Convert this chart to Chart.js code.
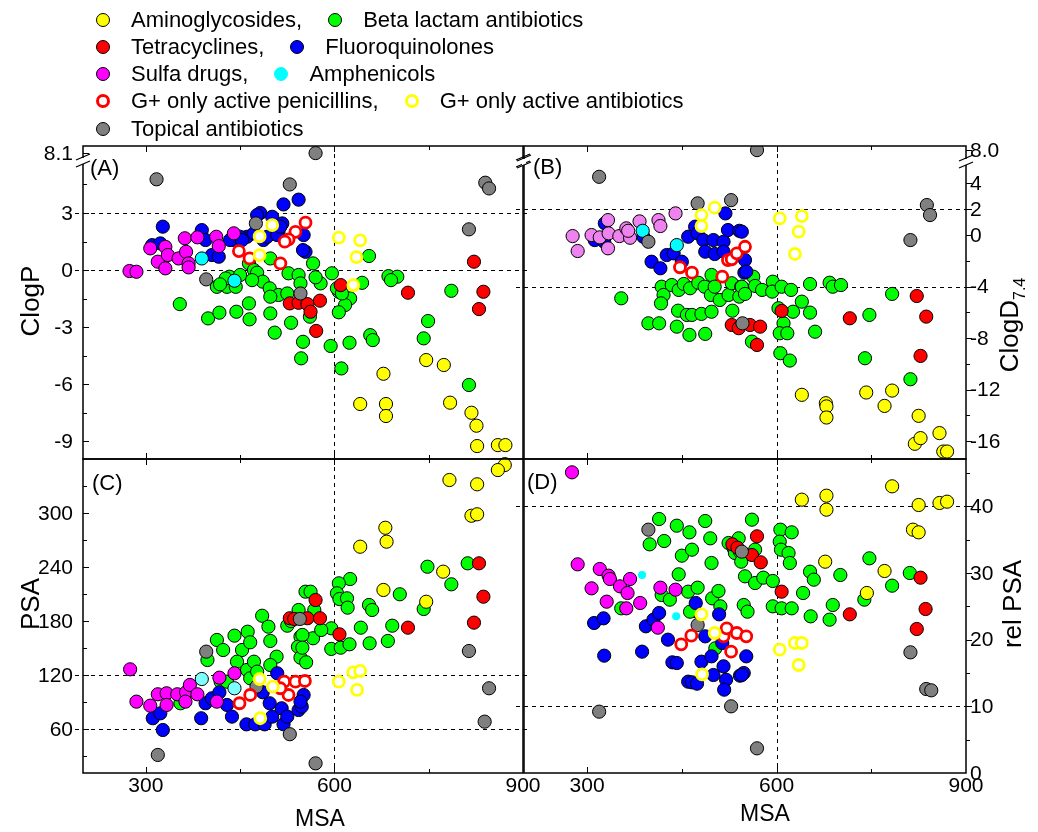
<!DOCTYPE html>
<html>
<head>
<meta charset="utf-8">
<script src="https://cdn.jsdelivr.net/npm/chart.js@4.4.1/dist/chart.umd.min.js"></script>
<style>
html,body{margin:0;padding:0;background:#fff;}
#wrap{position:relative;width:1038px;height:832px;overflow:hidden;font-family:"Liberation Sans",Arial,Helvetica,sans-serif;color:#000;}
#wrap canvas{position:absolute;left:0;top:0;}
.lg{position:absolute;left:96px;height:26px;display:flex;align-items:center;font-size:22px;white-space:nowrap;}
.mk{display:inline-block;box-sizing:border-box;width:14px;height:14px;border-radius:50%;border:1px solid #000;margin-right:21px;flex:none;}
.mk.ring{border:3px solid;background:#fff;}
.gap{display:inline-block;width:26px;}
.tt{position:absolute;white-space:nowrap;transform:translate(-50%,-50%);line-height:1;}
.rot{transform:translate(-50%,-50%) rotate(-90deg);}
</style>
</head>
<body>
<div id="wrap">
  <canvas id="cA" width="1038" height="832"></canvas>
  <canvas id="cB" width="1038" height="832"></canvas>
  <canvas id="cC" width="1038" height="832"></canvas>
  <canvas id="cD" width="1038" height="832"></canvas>

  <div class="lg" style="top:7px"><span class="mk" style="background:#ffff00"></span>Aminoglycosides,<span class="gap"></span><span class="mk" style="background:#00ff00"></span>Beta lactam antibiotics</div>
  <div class="lg" style="top:34px"><span class="mk" style="background:#ff0000"></span>Tetracyclines,<span class="gap"></span><span class="mk" style="background:#0000ff"></span>Fluoroquinolones</div>
  <div class="lg" style="top:61px"><span class="mk" style="background:#ff00ff"></span>Sulfa drugs,<span class="gap"></span><span class="mk" style="background:#00ffff;border-color:#00ffff"></span>Amphenicols</div>
  <div class="lg" style="top:88px"><span class="mk ring" style="border-color:#ff0000"></span>G+ only active penicillins,<span class="gap"></span><span class="mk ring" style="border-color:#ffff00"></span>G+ only active antibiotics</div>
  <div class="lg" style="top:116px"><span class="mk" style="background:#808080"></span>Topical antibiotics</div>

  <div class="tt rot" style="left:30px;top:301px;font-size:26px">ClogP</div>
  <div class="tt rot" style="left:30px;top:604px;font-size:26px">PSA</div>
  <div class="tt rot" style="left:1012px;top:325px;font-size:26px">ClogD<sub style="font-size:16px">7.4</sub></div>
  <div class="tt rot" style="left:1012px;top:604px;font-size:26px">rel PSA</div>
  <div class="tt" style="left:320px;top:818px;font-size:23px">MSA</div>
  <div class="tt" style="left:765px;top:813px;font-size:23px">MSA</div>
</div>

<script>
// ---------------- axis / tick definitions ----------------
const MSA_RANGE = [200, 900];
const MSA_TICKS = [300, 600, 900];
const MSA_MINOR = [450, 750];
const CLOGP_TICKS = [-9, -6, -3, 0, 3];
const CLOGP_MINOR = [-7.5, -4.5, -1.5, 1.5, 4.5];
const CLOGP_BREAK_VALUE = 8.1;
const CLOGD_TICKS = [-16, -12, -8, -4, 0, 2, 4];
const CLOGD_MINOR = [-14, -10, -6, -2];
const CLOGD_BREAK_VALUE = 8.0;
const PSA_TICKS = [60, 120, 180, 240, 300];
const PSA_MINOR = [30, 90, 150, 210, 270, 330];
const RELPSA_TICKS = [0, 10, 20, 30, 40];
const RELPSA_MINOR = [5, 15, 25, 35, 45];

// reference (dashed) lines
const REF_MSA = [600];
const REF_CLOGP = [0, 3];
const REF_CLOGD = [-4, 2];
const REF_PSA = [60, 120];
const REF_RELPSA = [10, 40];

// ---------------- data: [MSA, value] ----------------
// Panel A: ClogP
const A_beta = [[354,-1.79],[399,-2.54],[417,-2.24],[444,-2.19],[465,-2.59],[464,-1.75],[498,-2.28],[505,-3.29],[531,-2.77],[550,-3.77],[547,-4.64],[413,-0.88],[429,-0.88],[433,-0.35],[450,-0.26],[464,0.35],[472,0.00],[477,-0.14],[486,-0.61],[469,-0.53],[498,0.61],[497,-0.96],[511,-1.31],[498,-1.40],[525,-1.23],[527,-0.17],[543,-0.26],[546,-0.70],[655,0.74],[566,0.35],[596,-0.17],[686,-0.32],[700,-0.35],[690,-0.53],[644,-0.67],[607,-1.14],[625,-1.49],[617,-1.84],[607,-2.22],[561,-2.45],[427,-0.44],[578,-0.70],[570,-0.38],[594,-3.99],[624,-3.82],[657,-3.42],[661,-3.68],[611,-5.17],[786,-1.09],[749,-2.68],[742,-3.59],[814,-6.04],[604,-0.96],[612,-1.23],[443,-0.88],[418,-0.75]];
const A_amino = [[678,-5.45],[641,-7.04],[682,-7.04],[682,-7.67],[746,-4.73],[774,-4.99],[784,-6.97],[818,-7.50],[826,-8.18],[827,-9.25],[860,-9.20],[872,-9.20],[871,-10.2]];
const A_tetra = [[529,-1.75],[543,-1.72],[557,-1.79],[577,-1.61],[562,-2.19],[571,-3.20],[610,-0.79],[717,-1.19],[822,0.44],[837,-1.14],[830,-2.05]];
const A_fluoro = [[543,3.70],[519,3.45],[327,2.28],[482,3.00],[501,2.80],[517,2.45],[511,2.01],[487,1.58],[461,1.75],[440,1.58],[472,1.93],[551,1.84],[554,0.96],[310,1.31],[323,1.40],[389,2.10],[395,1.58],[405,0.79],[416,0.70],[434,1.58],[450,1.75],[477,2.89],[493,1.75],[509,1.84],[453,1.58],[514,2.28],[550,1.05]];
const A_sulfa = [[274,-0.05],[285,-0.09],[307,1.14],[319,0.44],[331,1.22],[335,0.79],[331,0.09],[352,0.61],[362,1.67],[364,0.96],[368,0.35],[368,0.14],[382,1.72],[412,1.75],[416,1.26],[440,1.93]];
const A_amph = [[389,0.61],[441,-0.56]];
const A_topical = [[317,4.77],[529,4.50],[475,2.45],[396,-0.49],[546,-1.23],[570,8.1],[840,4.59],[846,4.29],[814,2.14]];
const A_gpen = [[554,2.49],[538,2.01],[527,1.61],[521,1.49],[448,1.00],[465,0.61],[514,0.35]];
const A_gant = [[501,2.36],[481,1.77],[481,0.79],[607,1.70],[641,1.56],[635,0.68],[630,-0.79]];

// Panel B: ClogD7.4
const B_beta = [[354,-4.91],[418,-4.01],[421,-4.65],[417,-5.30],[434,-3.88],[445,-4.26],[453,-3.80],[463,-4.13],[476,-3.70],[486,-4.01],[497,-3.10],[496,-4.65],[502,-4.01],[510,-5.04],[524,-4.65],[529,-3.74],[544,-4.01],[541,-4.78],[444,-5.87],[458,-6.20],[466,-6.20],[481,-6.12],[497,-5.95],[530,-5.87],[397,-6.85],[414,-6.85],[442,-7.11],[462,-7.75],[487,-7.67],[563,-3.23],[566,-3.95],[545,-4.01],[550,-4.57],[577,-4.26],[594,-3.62],[593,-4.39],[608,-4.01],[623,-4.26],[653,-3.80],[684,-3.70],[689,-4.01],[702,-3.88],[783,-4.57],[640,-5.17],[653,-6.02],[626,-5.95],[603,-5.68],[611,-6.85],[605,-7.62],[617,-7.62],[661,-7.50],[606,-9.17],[621,-9.74],[747,-6.20],[740,-9.56],[812,-11.19],[561,-8.27]];
const B_amino = [[640,-12.40],[678,-13.05],[679,-13.30],[679,-14.16],[742,-12.22],[783,-12.07],[771,-13.26],[825,-14.03],[819,-16.20],[828,-15.76],[858,-15.37],[864,-16.80],[870,-16.80]];
const B_tetra = [[529,-6.98],[540,-7.23],[558,-6.98],[574,-7.11],[569,-8.53],[608,-5.89],[716,-6.46],[822,-4.73],[837,-6.33],[828,-9.38]];
const B_fluoro = [[328,0.91],[312,-0.39],[327,-0.52],[389,-0.13],[402,-2.07],[416,-2.58],[426,-1.55],[437,-1.42],[450,-2.07],[471,0.65],[460,-0.13],[475,0.13],[484,-0.39],[500,-0.39],[487,-1.29],[502,-1.47],[516,-0.52],[516,-1.29],[523,0.39],[519,1.68],[541,0.33],[549,-2.92],[545,0.26],[550,-1.94],[552,-2.84]];
const B_sulfa = [[277,-0.08],[285,-1.24],[307,0.00],[320,-0.18],[334,0.13],[333,1.16],[333,-1.03],[351,-0.08],[362,0.52],[368,-0.21],[365,0.33],[383,1.06],[413,1.16],[416,0.70],[440,1.68]];
const B_amph = [[388,0.33],[442,-0.78]];
const B_topical = [[319,4.52],[397,-0.52],[475,2.46],[528,2.71],[546,-6.85],[569,8.0],[838,2.33],[843,1.55],[812,-0.39]];
const B_gpen = [[447,-2.50],[466,-2.92],[514,-3.23],[523,-1.94],[529,-1.88],[537,-1.42],[550,-0.91]];
const B_gant = [[502,2.12],[481,1.55],[481,0.70],[605,1.29],[640,1.47],[635,0.26],[629,-1.47]];

// Panel C: PSA
const C_beta = [[355,88.5],[398,136.7],[413,159.0],[423,147.8],[441,163.8],[453,147.8],[462,168.2],[466,156.4],[445,134.8],[461,125.6],[472,134.8],[419,112.5],[429,112.5],[485,186.0],[495,173.8],[498,157.9],[508,140.4],[498,131.1],[466,116.3],[477,123.7],[525,174.9],[531,180.0],[543,192.4],[546,162.7],[542,151.5],[546,139.3],[554,212.8],[748,240.6],[786,221.0],[812,244.4],[742,193.5],[704,209.9],[655,198.0],[660,192.4],[692,174.9],[685,157.9],[642,172.7],[656,155.3],[625,226.9],[607,222.1],[604,211.0],[608,204.6],[620,205.4],[621,195.0],[595,172.0],[595,149.0],[610,150.4],[624,154.2],[562,212.8],[568,192.4],[566,160.9],[579,170.1],[555,134.1],[549,164.6],[549,150.4]];
const C_amino = [[871,353.9],[860,348.3],[783,337.2],[827,332.4],[818,297.4],[827,299.0],[681,284.0],[683,268.5],[641,262.9],[773,235.1],[678,214.7],[746,201.6]];
const C_tetra = [[529,183.2],[536,182.4],[557,183.2],[570,203.5],[577,183.2],[608,165.3],[717,172.7],[830,244.4],[837,207.2],[822,178.3]];
const C_fluoro = [[311,71.8],[323,77.3],[327,58.7],[388,71.8],[395,88.5],[405,94.0],[417,100.7],[429,86.6],[437,73.6],[460,65.0],[474,65.0],[489,65.0],[486,100.7],[497,88.5],[501,73.6],[516,82.9],[519,65.1],[525,73.6],[509,121.9],[543,81.0],[551,97.7],[548,84.7],[546,90.3]];
const C_sulfa = [[275,126.3],[285,90.3],[307,85.8],[319,98.5],[333,99.6],[333,86.6],[350,98.5],[364,100.7],[370,108.9],[363,90.3],[382,98.5],[413,90.3],[417,117.0],[441,121.9]];
const C_amph = [[389,115.5],[441,105.2]];
const C_topical = [[319,30.9],[396,146.0],[476,107.0],[529,54.0],[545,182.4],[570,21.6],[814,146.7],[846,105.2],[839,68.0]];
const C_gpen = [[449,88.5],[466,97.7],[520,112.5],[538,112.5],[553,113.3],[527,97.7],[514,105.2]];
const C_gant = [[481,115.5],[502,107.0],[482,71.8],[607,112.5],[630,123.0],[641,124.5],[636,103.3]];

// Panel D: rel PSA
const D_beta = [[354,24.7],[414,38.1],[442,37.1],[462,36.1],[487,37.8],[495,35.2],[399,34.3],[422,34.8],[450,32.6],[466,33.5],[497,31.5],[445,29.8],[460,27.2],[475,27.8],[498,26.2],[508,27.3],[418,26.7],[431,26.0],[471,24.3],[463,24.2],[511,25.0],[503,18.7],[524,34.5],[532,33.7],[534,33.0],[542,33.2],[544,31.7],[540,35.2],[561,38.0],[606,36.5],[605,34.7],[607,33.5],[619,33.0],[621,31.5],[624,36.1],[566,33.5],[550,29.5],[566,28.5],[579,29.3],[594,28.8],[548,25.2],[554,24.2],[594,25.0],[608,24.7],[624,24.7],[642,27.0],[653,30.2],[659,29.0],[701,29.7],[654,23.5],[684,23.0],[689,25.2],[747,32.2],[739,26.0],[783,28.1],[811,30.0]];
const D_amino = [[783,43.0],[640,41.0],[679,41.6],[679,39.5],[825,40.2],[858,40.5],[870,40.7],[816,36.5],[825,36.1],[677,31.7],[771,30.3],[743,27.0]];
const D_tetra = [[530,34.3],[538,33.8],[569,35.5],[561,32.7],[575,31.6],[608,27.2],[716,23.8],[828,29.3],[836,24.6],[822,21.6]];
const D_fluoro = [[311,22.5],[326,23.2],[327,17.6],[387,18.2],[393,22.0],[405,23.0],[414,24.0],[428,20.0],[435,16.6],[442,16.5],[460,13.7],[466,13.6],[474,13.4],[472,25.5],[487,20.5],[481,16.7],[497,17.5],[500,14.7],[516,16.0],[520,14.0],[517,12.5],[509,23.8],[542,14.6],[514,19.5],[552,17.5],[548,15.0],[545,14.7]];
const D_sulfa = [[276,45.1],[285,31.3],[307,27.7],[320,30.6],[334,29.6],[336,29.1],[331,25.7],[352,28.0],[364,27.0],[368,29.1],[362,24.7],[384,25.5],[416,27.8],[440,27.5],[412,21.8]];
const D_amph = [[387,29.7],[441,23.5]];
const D_topical = [[397,36.5],[319,9.2],[528,10.0],[475,22.2],[545,33.2],[812,18.1],[837,12.6],[845,12.4],[569,3.7]];
const D_gpen = [[449,19.3],[465,20.6],[516,20.5],[521,21.7],[537,21.0],[528,18.2],[552,20.5]];
const D_gant = [[481,23.8],[502,21.0],[482,14.8],[605,18.5],[629,19.5],[640,19.5],[635,16.2]];

// ---------------- styles ----------------
const W = 1038, H = 832;
const FONT = '"Liberation Sans", Arial, Helvetica, sans-serif';
const ST = {
  gant:   {bg:'#ffffff', bd:'#ffff00', r:5.5, bw:2.8},
  gpen:   {bg:'#ffffff', bd:'#ff0000', r:5.5, bw:2.8},
  topical:{bg:'#808080', bd:'#000000', r:6.6, bw:1},
  amph:   {bg:'#00ffff', bd:'#000000', r:6.6, bw:1},
  sulfa:  {bg:'#ff00ff', bd:'#000000', r:6.6, bw:1},
  fluoro: {bg:'#0000ff', bd:'#000000', r:6.6, bw:1},
  tetra:  {bg:'#ff0000', bd:'#000000', r:6.6, bw:1},
  amino:  {bg:'#ffff00', bd:'#000000', r:6.6, bw:1},
  beta:   {bg:'#00ff00', bd:'#000000', r:6.6, bw:1}
};

// axis break: compress values above 5 so the off-scale point sits just under the top
const brkA = v => v > 5 ? 5 + (v - 5) * 0.37 : v;
const brkB = v => v > 5 ? 5 + (v - 5) * 0.53 : v;
const ident = v => v;

function ds(arr, st, tf, over) {
  const o = Object.assign({}, st, over || {});
  return {
    data: arr.map(p => ({x: p[0], y: tf(p[1])})),
    pointRadius: o.r, pointHoverRadius: o.r,
    pointBackgroundColor: o.bg, pointBorderColor: o.bd, pointBorderWidth: o.bw,
    showLine: false, clip: 0
  };
}
function buildSets(g, tf, over) {
  over = over || {};
  // first = drawn on top
  return [
    ds(g.gant, ST.gant, tf, over.gant),
    ds(g.gpen, ST.gpen, tf, over.gpen),
    ds(g.topical, ST.topical, tf, over.topical),
    ds(g.amph, ST.amph, tf, over.amph),
    ds(g.sulfa, ST.sulfa, tf, over.sulfa),
    ds(g.fluoro, ST.fluoro, tf, over.fluoro),
    ds(g.tetra, ST.tetra, tf, over.tetra),
    ds(g.amino, ST.amino, tf, over.amino),
    ds(g.beta, ST.beta, tf, over.beta)
  ];
}

function decoPlugin(cfg) {
  return {
    id: 'deco',
    beforeDatasetsDraw(chart) {
      const ctx = chart.ctx, a = chart.chartArea, xs = chart.scales.x, ys = chart.scales.y;
      ctx.save();
      ctx.strokeStyle = '#000'; ctx.lineWidth = 1; ctx.setLineDash([4, 4]);
      cfg.hLines.forEach(v => {
        const y = Math.round(ys.getPixelForValue(cfg.tf(v))) + 0.5;
        ctx.beginPath(); ctx.moveTo(a.left - 8, y); ctx.lineTo(a.right + 4, y); ctx.stroke();
      });
      cfg.vLines.forEach(v => {
        const x = Math.round(xs.getPixelForValue(v)) + 0.5;
        ctx.beginPath(); ctx.moveTo(x, a.top); ctx.lineTo(x, a.bottom); ctx.stroke();
      });
      ctx.restore();
    },
    afterDatasetsDraw(chart) {
      const ctx = chart.ctx, a = chart.chartArea, xs = chart.scales.x, ys = chart.scales.y;
      ctx.save();
      ctx.strokeStyle = '#000'; ctx.lineWidth = 1.5; ctx.setLineDash([]);
      ctx.strokeRect(a.left, a.top, a.right - a.left, a.bottom - a.top);
      ctx.lineWidth = 1;
      // x ticks (top & bottom, inward)
      const xt = (v, len) => {
        const x = Math.round(xs.getPixelForValue(v)) + 0.5;
        if (x <= a.left + 1 || x >= a.right - 1) return;
        ctx.beginPath(); ctx.moveTo(x, a.top); ctx.lineTo(x, a.top + len);
        ctx.moveTo(x, a.bottom); ctx.lineTo(x, a.bottom - len); ctx.stroke();
      };
      MSA_TICKS.forEach(v => xt(v, 6));
      MSA_MINOR.forEach(v => xt(v, 4));
      // y ticks
      const side = cfg.side;
      const yt = (v, len) => {
        const y = Math.round(ys.getPixelForValue(v)) + 0.5;
        if (y <= a.top + 1 || y >= a.bottom - 1) return;
        ctx.beginPath();
        if (side === 'left') { ctx.moveTo(a.left, y); ctx.lineTo(a.left + len, y); }
        else { ctx.moveTo(a.right, y); ctx.lineTo(a.right + len, y); }
        ctx.stroke();
      };
      cfg.yAll.forEach(v => yt(cfg.tf(v), 6));
      cfg.yMinor.forEach(v => yt(cfg.tf(v), 4));
      // y labels
      ctx.fillStyle = '#000';
      ctx.font = '21px ' + FONT;
      ctx.textBaseline = 'middle';
      ctx.textAlign = side === 'left' ? 'right' : 'left';
      const lx = side === 'left' ? a.left - 10 : a.right + 4;
      cfg.yLabels.forEach(v => {
        const y = ys.getPixelForValue(cfg.tf(v));
        ctx.fillText(cfg.fmt ? cfg.fmt(v) : String(v), lx, y + 1);
      });
      // x labels
      if (cfg.xLabels) {
        ctx.textAlign = 'center';
        MSA_TICKS.forEach(v => {
          ctx.fillText(String(v), xs.getPixelForValue(v), a.bottom + 13);
        });
      }
      // axis breaks
      if (cfg.brkY) {
        const by = cfg.brkY;
        [a.left, a.right].forEach(x => {
          ctx.fillStyle = '#fff';
          ctx.fillRect(x - 2, by - 3, 4, 6);
          ctx.strokeStyle = '#000'; ctx.lineWidth = 1.3;
          ctx.beginPath();
          ctx.moveTo(x - 7, by - 1); ctx.lineTo(x + 7, by - 7);
          ctx.moveTo(x - 7, by + 6); ctx.lineTo(x + 7, by);
          ctx.stroke();
        });
      }
      // panel letter
      ctx.fillStyle = '#000';
      ctx.font = '22px ' + FONT;
      ctx.textAlign = 'left'; ctx.textBaseline = 'middle';
      ctx.fillText(cfg.letter, a.left + cfg.letterDx, a.top + cfg.letterDy);
      ctx.restore();
    }
  };
}

function makeChart(id, area, yr, sets, cfg) {
  return new Chart(document.getElementById(id), {
    type: 'scatter',
    data: {datasets: sets},
    options: {
      responsive: false, animation: false, devicePixelRatio: 1, events: [],
      layout: {padding: {left: area[0], top: area[1], right: W - area[2], bottom: H - area[3]}},
      plugins: {legend: {display: false}, tooltip: {enabled: false}},
      scales: {
        x: {type: 'linear', min: MSA_RANGE[0], max: MSA_RANGE[1], display: false},
        y: {type: 'linear', min: yr[0], max: yr[1], display: false}
      }
    },
    plugins: [decoPlugin(cfg)]
  });
}

const gA = {beta:A_beta, amino:A_amino, tetra:A_tetra, fluoro:A_fluoro, sulfa:A_sulfa, amph:A_amph, topical:A_topical, gpen:A_gpen, gant:A_gant};
const gB = {beta:B_beta, amino:B_amino, tetra:B_tetra, fluoro:B_fluoro, sulfa:B_sulfa, amph:B_amph, topical:B_topical, gpen:B_gpen, gant:B_gant};
const gC = {beta:C_beta, amino:C_amino, tetra:C_tetra, fluoro:C_fluoro, sulfa:C_sulfa, amph:C_amph, topical:C_topical, gpen:C_gpen, gant:C_gant};
const gD = {beta:D_beta, amino:D_amino, tetra:D_tetra, fluoro:D_fluoro, sulfa:D_sulfa, amph:D_amph, topical:D_topical, gpen:D_gpen, gant:D_gant};

makeChart('cA', [83, 146, 523, 459], [-9.93, 6.52], buildSets(gA, brkA), {
  tf: brkA, side: 'left', hLines: REF_CLOGP, vLines: REF_MSA,
  yAll: CLOGP_TICKS.concat([CLOGP_BREAK_VALUE]), yMinor: CLOGP_MINOR,
  yLabels: CLOGP_TICKS.concat([CLOGP_BREAK_VALUE]), fmt: v => v === CLOGP_BREAK_VALUE ? v.toFixed(1) : String(v),
  xLabels: false, brkY: 161, letter: '(A)', letterDx: 7, letterDy: 23
});
makeChart('cB', [524, 146, 966, 459], [-17.38, 6.91], buildSets(gB, brkB, {sulfa: {bg: '#ee82ee'}}), {
  tf: brkB, side: 'right', hLines: REF_CLOGD, vLines: REF_MSA,
  yAll: CLOGD_TICKS.concat([CLOGD_BREAK_VALUE]), yMinor: CLOGD_MINOR,
  yLabels: CLOGD_TICKS.concat([CLOGD_BREAK_VALUE]), fmt: v => v === CLOGD_BREAK_VALUE ? v.toFixed(1) : String(v),
  xLabels: false, brkY: 162, letter: '(B)', letterDx: 9, letterDy: 22
});
makeChart('cC', [83, 459, 523, 773], [10.8, 360.6], buildSets(gC, ident, {amph: {bg: '#80ffff'}}), {
  tf: ident, side: 'left', hLines: REF_PSA, vLines: REF_MSA,
  yAll: PSA_TICKS, yMinor: PSA_MINOR, yLabels: PSA_TICKS,
  xLabels: true, brkY: 0, letter: '(C)', letterDx: 9, letterDy: 25
});
makeChart('cD', [524, 459, 966, 773], [0, 47.1], buildSets(gD, ident, {amph: {r: 4, bw: 0, bd: '#00ffff'}}), {
  tf: ident, side: 'right', hLines: REF_RELPSA, vLines: REF_MSA,
  yAll: RELPSA_TICKS, yMinor: RELPSA_MINOR, yLabels: RELPSA_TICKS,
  xLabels: true, brkY: 0, letter: '(D)', letterDx: 3, letterDy: 24
});
</script>
</body>
</html>
